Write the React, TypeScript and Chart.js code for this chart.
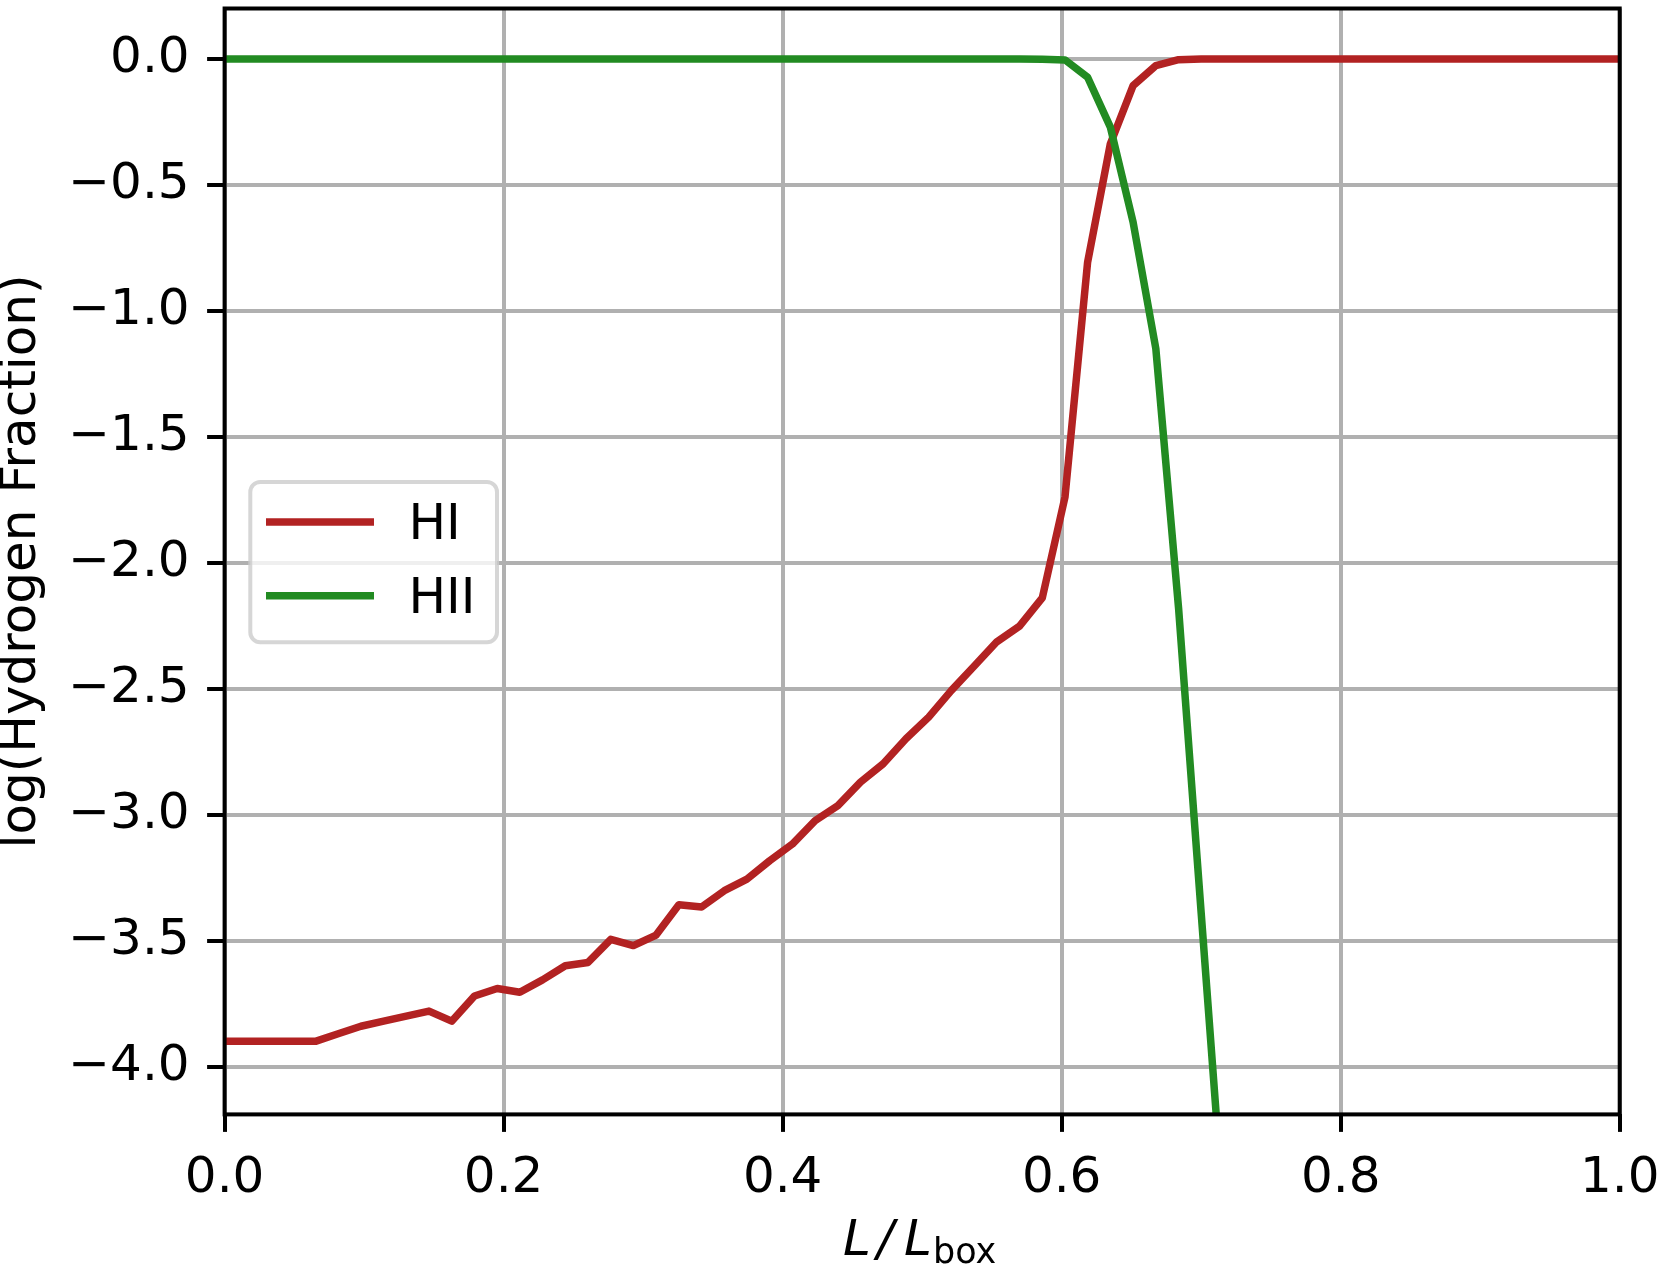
import React, { useEffect, useRef } from 'react';
import { Chart, registerables } from 'chart.js';

Chart.register(...registerables);

// x positions (L / L_box) of the samples
const xPositions = [
  0, 0.0163, 0.0326, 0.0488, 0.0651, 0.0814, 0.0977, 0.114, 0.1302, 0.1465,
  0.1628, 0.1791, 0.1954, 0.2116, 0.2279, 0.2442, 0.2605, 0.2768, 0.293, 0.3093,
  0.3256, 0.3419, 0.3582, 0.3744, 0.3907, 0.407, 0.4233, 0.4396, 0.4558, 0.4721,
  0.4884, 0.5047, 0.521, 0.5372, 0.5535, 0.5698, 0.5861, 0.6024, 0.6186, 0.6349,
  0.6512, 0.6675, 0.6838, 0.7, 0.7163, 0.7326, 0.7489, 0.7652, 0.7814, 0.7977,
  0.814, 0.8303, 0.8466, 0.8628, 0.8791, 0.8954, 0.9117, 0.928, 0.9442, 0.9605,
  0.9768, 0.9931, 1.0,
];

// log(HI fraction)
const hiValues = [
  -3.9, -3.9, -3.9, -3.9, -3.9, -3.87, -3.84, -3.82, -3.8, -3.78,
  -3.82, -3.72, -3.69, -3.705, -3.656, -3.6, -3.587, -3.495, -3.52, -3.478,
  -3.358, -3.367, -3.302, -3.256, -3.183, -3.117, -3.024, -2.964, -2.871, -2.798,
  -2.699, -2.613, -2.507, -2.411, -2.314, -2.252, -2.14, -1.739, -0.807, -0.337,
  -0.106, -0.027, -0.003, 0, 0, 0, 0, 0, 0, 0,
  0, 0, 0, 0, 0, 0, 0, 0, 0, 0,
  0, 0, 0,
];

// log(HII fraction)
const hiiValues = [
  0, 0, 0, 0, 0, 0, 0, 0, 0, 0,
  0, 0, 0, 0, 0, 0, 0, 0, 0, 0,
  0, 0, 0, 0, 0, 0, 0, 0, 0, 0,
  0, 0, 0, 0, 0, 0, -0.001, -0.004, -0.073, -0.271,
  -0.648, -1.15, -2.18, -3.39, -4.6,
];

const seriesLabels = ['HI', 'HII'];
const seriesColors = ['#b22222', '#228b22'];
const xTickValues = [0, 0.2, 0.4, 0.6, 0.8, 1.0];
const yTickValues = [-4.0, -3.5, -3.0, -2.5, -2.0, -1.5, -1.0, -0.5, 0.0];
const xRange = [0, 1];
const yRange = [-4.19, 0.2];
const yTitle = 'log(Hydrogen Fraction)';

const FONT = '"DejaVu Sans"';
const W = 1661;
const H = 1266;

const fmt = (v: number) => {
  const s = Math.abs(v) < 1e-9 ? '0.0' : v.toFixed(1);
  return s.replace('-', '\u2212');
};

const decorPlugin = {
  id: 'decor',
  afterDatasetsDraw(chart: any) {
    const { ctx, chartArea } = chart;
    ctx.save();
    ctx.strokeStyle = '#000';
    ctx.lineWidth = 4;
    ctx.strokeRect(chartArea.left, chartArea.top, chartArea.right - chartArea.left, chartArea.bottom - chartArea.top);
    ctx.restore();
  },
  afterDraw(chart: any) {
    const { ctx, chartArea } = chart;
    ctx.save();
    // y title
    ctx.fillStyle = '#000';
    ctx.font = `50px ${FONT}`;
    ctx.textAlign = 'center';
    ctx.textBaseline = 'alphabetic';
    ctx.save();
    ctx.translate(35, (chartArea.top + chartArea.bottom) / 2);
    ctx.rotate(-Math.PI / 2);
    ctx.fillText(yTitle, 0, 0);
    ctx.restore();

    // x title: L / L_box
    ctx.textAlign = 'left';
    const base = 1255;
    ctx.font = `italic 50px ${FONT}`;
    ctx.fillText('L', 843, base);
    ctx.fillText('/', 877, base);
    ctx.fillText('L', 904, base);
    ctx.font = `35px ${FONT}`;
    ctx.fillText('box', 933, base + 8);

    // legend
    const bx = 250.3, by = 482, bw = 246.7, bh = 160.3, r = 10;
    ctx.beginPath();
    ctx.moveTo(bx + r, by);
    ctx.lineTo(bx + bw - r, by);
    ctx.arcTo(bx + bw, by, bx + bw, by + r, r);
    ctx.lineTo(bx + bw, by + bh - r);
    ctx.arcTo(bx + bw, by + bh, bx + bw - r, by + bh, r);
    ctx.lineTo(bx + r, by + bh);
    ctx.arcTo(bx, by + bh, bx, by + bh - r, r);
    ctx.lineTo(bx, by + r);
    ctx.arcTo(bx, by, bx + r, by, r);
    ctx.closePath();
    ctx.fillStyle = 'rgba(255,255,255,0.8)';
    ctx.fill();
    ctx.strokeStyle = 'rgba(204,204,204,0.8)';
    ctx.lineWidth = 4;
    ctx.stroke();

    seriesLabels.forEach((label, i) => {
      const ly = 522 + i * 73.7;
      ctx.beginPath();
      ctx.moveTo(266, ly);
      ctx.lineTo(374, ly);
      ctx.strokeStyle = seriesColors[i];
      ctx.lineWidth = 7.5;
      ctx.lineCap = 'butt';
      ctx.stroke();
      ctx.fillStyle = '#000';
      ctx.font = `50px ${FONT}`;
      ctx.textAlign = 'left';
      ctx.fillText(label, 408.4, 539.3 + i * 73.7);
    });
    ctx.restore();
  },
};

export default function App() {
  const canvasRef = useRef<HTMLCanvasElement | null>(null);

  useEffect(() => {
    const canvas = canvasRef.current;
    if (!canvas) return;
    canvas.width = W;
    canvas.height = H;

    const gridCommon = {
      color: '#b0b0b0',
      lineWidth: 4,
      tickColor: '#000',
      tickWidth: 4,
      tickLength: 17.5,
      drawTicks: true,
    };
    const tickFont = { family: 'DejaVu Sans', size: 50 };

    const chart = new Chart(canvas, {
      type: 'line',
      data: {
        datasets: [
          {
            label: seriesLabels[0],
            data: hiValues.map((v, i) => ({ x: xPositions[i], y: v })),
            borderColor: seriesColors[0],
            borderWidth: 7.5,
            borderJoinStyle: 'round',
            borderCapStyle: 'square',
            pointRadius: 0,
            fill: false,
            tension: 0,
            order: 2,
          },
          {
            label: seriesLabels[1],
            data: hiiValues.map((v, i) => ({ x: xPositions[i], y: v })),
            borderColor: seriesColors[1],
            borderWidth: 7.5,
            borderJoinStyle: 'round',
            borderCapStyle: 'square',
            pointRadius: 0,
            fill: false,
            tension: 0,
            order: 1,
          },
        ],
      },
      options: {
        animation: false,
        responsive: false,
        maintainAspectRatio: false,
        devicePixelRatio: 1,
        events: [],
        layout: { padding: { top: 8.5, right: 41.3, bottom: 0, left: 0 } },
        plugins: { legend: { display: false }, tooltip: { enabled: false } },
        scales: {
          x: {
            type: 'linear',
            min: xRange[0],
            max: xRange[1],
            afterBuildTicks: (s: any) => {
              s.ticks = xTickValues.map((v) => ({ value: v }));
            },
            afterFit: (s: any) => {
              s.height = 151.6;
              s.paddingLeft = 0;
              s.paddingRight = 0;
            },
            grid: gridCommon,
            border: { display: false },
            ticks: {
              font: tickFont,
              color: '#000',
              padding: 17.5,
              maxRotation: 0,
              minRotation: 0,
              autoSkip: false,
              callback: (v: any) => fmt(Number(v)),
            },
          },
          y: {
            type: 'linear',
            min: yRange[0],
            max: yRange[1],
            afterBuildTicks: (s: any) => {
              s.ticks = yTickValues.map((v) => ({ value: v }));
            },
            afterFit: (s: any) => {
              s.width = 224.6;
              s.paddingTop = 0;
              s.paddingBottom = 0;
            },
            grid: gridCommon,
            border: { display: false },
            ticks: {
              font: tickFont,
              color: '#000',
              padding: 17.5,
              autoSkip: false,
              callback: (v: any) => fmt(Number(v)),
            },
          },
        },
      } as any,
      plugins: [decorPlugin],
    });

    return () => chart.destroy();
  }, []);

  return (
    <div style={{ position: 'absolute', left: 0, top: 0, width: W, height: H, background: '#fff' }}>
      <canvas ref={canvasRef} style={{ display: 'block', width: W, height: H }} />
    </div>
  );
}
